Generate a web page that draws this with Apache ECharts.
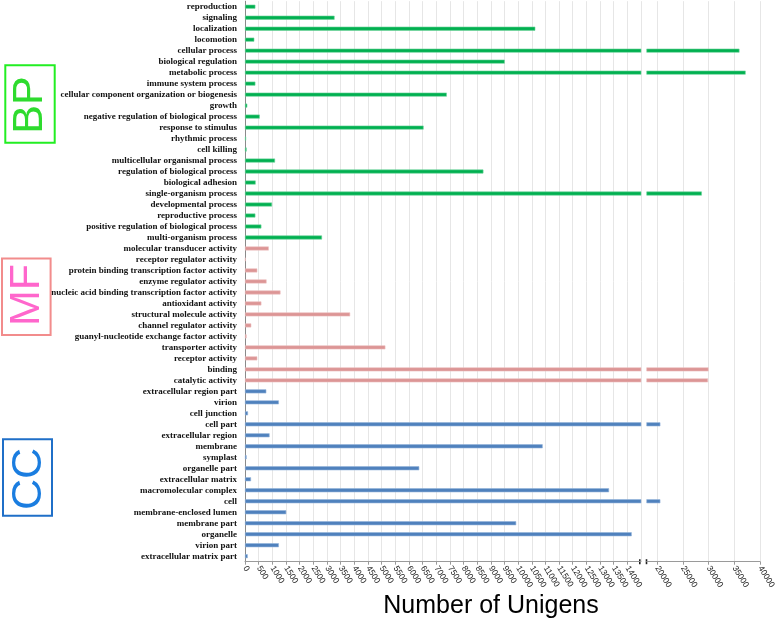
<!DOCTYPE html>
<html><head><meta charset="utf-8">
<script src="https://cdn.jsdelivr.net/npm/echarts@6/dist/echarts.min.js"></script>
<style>html,body{margin:0;padding:0;background:#fff}#c{width:778px;height:625px}</style>
</head><body><div id="c"></div>
<script>
// ---- data (top to bottom) ----
const bpNames = ["reproduction","signaling","localization","locomotion","cellular process","biological regulation","metabolic process","immune system process","cellular component organization or biogenesis","growth","negative regulation of biological process","response to stimulus","rhythmic process","cell killing","multicellular organismal process","regulation of biological process","biological adhesion","single-organism process","developmental process","reproductive process","positive regulation of biological process","multi-organism process"];
const bpValues = [380,3280,10630,340,36000,9510,37200,380,7390,85,540,6540,40,60,1100,8730,390,28700,990,380,600,2820];
const mfNames = ["molecular transducer activity","receptor regulator activity","protein binding transcription factor activity","enzyme regulator activity","nucleic acid binding transcription factor activity","antioxidant activity","structural molecule activity","channel regulator activity","guanyl-nucleotide exchange factor activity","transporter activity","receptor activity","binding","catalytic activity"];
const mfValues = [870,25,450,790,1300,600,3850,230,60,5140,450,30000,29900];
const ccNames = ["extracellular region part","virion","cell junction","cell part","extracellular region","membrane","symplast","organelle part","extracellular matrix","macromolecular complex","cell","membrane-enclosed lumen","membrane part","organelle","virion part","extracellular matrix part"];
const ccValues = [780,1240,110,20650,900,10900,60,6380,220,13330,20650,1510,9930,14160,1240,100];
const leftMax = 14500;
const rightMin = 18000;
const rightMax = 40000;
const rightTicks = [20000,25000,30000,35000,40000];
const axisTitle = "Number of Unigens";
const groupLabels = ["BP","MF","CC"];

const groupColors = ["#00b050","#dc9595","#4f81bd"];
const groupEdges = ["#6fd39c","#ecc0c0","#93b3da"];

const categories = bpNames.concat(mfNames, ccNames);
const values = bpValues.concat(mfValues, ccValues);
const groups = bpNames.map(()=>0).concat(mfNames.map(()=>1), ccNames.map(()=>2));

function item(v, i){
  const g = groups[i];
  return {value:v, itemStyle:{color:groupColors[g], borderColor:groupEdges[g], borderWidth:0.6}};
}

const chart = echarts.init(document.getElementById('c'), null, {renderer:'canvas'});

const catLabel = {interval:0, fontFamily:'Liberation Serif', fontWeight:'bold', fontSize:9, color:'#111', margin:8};
const numLabel = {fontFamily:'Liberation Sans', fontSize:8.5, color:'#222', rotate:-58, margin:5};

chart.setOption({
  animation:false,
  backgroundColor:'#fff',
  grid:[
    {left:245, top:1.2, width:396, height:560.5},
    {left:646.7, top:1.2, width:116.6, height:560.5}
  ],
  xAxis:[
    {type:'value', gridIndex:0, min:0, max:leftMax, interval:500,
     axisLine:{show:true, lineStyle:{color:'#9a9a9a'}},
     axisTick:{show:true, length:3, lineStyle:{color:'#9a9a9a'}},
     splitLine:{show:true, lineStyle:{color:'#e6e6e6', width:1}},
     axisLabel:Object.assign({showMaxLabel:false, formatter:v=>String(v)}, numLabel)},
    {type:'value', gridIndex:1, min:rightMin, max:rightMax,
     axisLine:{show:true, lineStyle:{color:'#9a9a9a'}},
     axisTick:{show:true, length:3, customValues:rightTicks, lineStyle:{color:'#9a9a9a'}},
     splitLine:{show:true, lineStyle:{color:'#e6e6e6', width:1}},
     axisLabel:Object.assign({customValues:rightTicks, formatter:v=>String(v)}, numLabel)}
  ],
  yAxis:[
    {type:'category', gridIndex:0, data:categories, inverse:true,
     axisLine:{show:true, lineStyle:{color:'#8a8a8a'}},
     axisTick:{show:false}, axisLabel:catLabel},
    {type:'category', gridIndex:1, data:categories, inverse:true,
     axisLine:{show:false}, axisTick:{show:false}, axisLabel:{show:false}}
  ],
  series:[
    {type:'bar', xAxisIndex:0, yAxisIndex:0, data:values.map(item), barWidth:4, clip:true, silent:true},
    {type:'bar', xAxisIndex:1, yAxisIndex:1, data:values.map((v,i)=>v>leftMax?item(v,i):'-'), barWidth:4, clip:true, silent:true}
  ]
});

// decorations: break marks, axis title, group boxes
const y0 = chart.convertToPixel({yAxisIndex:0}, categories[categories.length-1]) + 5.5;
const xb1 = chart.convertToPixel({xAxisIndex:0}, leftMax);
const xb2 = chart.convertToPixel({xAxisIndex:1}, rightMin);
chart.setOption({
  graphic:[
    {type:'rect', shape:{x:xb1-2, y:y0-2.5, width:1.6, height:5}, style:{fill:'#222'}},
    {type:'rect', shape:{x:xb2-1, y:y0-2.5, width:1.6, height:5}, style:{fill:'#222'}},
    {type:'text', x:491, y:606, style:{text:axisTitle, fontFamily:'Liberation Sans', fontSize:25, fill:'#000', align:'center', verticalAlign:'middle'}},
    {type:'rect', shape:{x:5.3, y:65.3, width:49.4, height:77.4}, style:{fill:null, stroke:'#22ee22', lineWidth:2}},
    {type:'text', x:30, y:105, rotation:Math.PI/2, style:{text:groupLabels[0], fontFamily:'Liberation Sans', fontSize:43, fill:'#2edb2e', align:'center', verticalAlign:'middle'}},
    {type:'rect', shape:{x:2, y:258.5, width:48.6, height:76.5}, style:{fill:null, stroke:'#f28c8c', lineWidth:2}},
    {type:'text', x:27, y:295, rotation:Math.PI/2, style:{text:groupLabels[1], fontFamily:'Liberation Sans', fontSize:43, fill:'#ff66cc', align:'center', verticalAlign:'middle'}},
    {type:'rect', shape:{x:3, y:439.3, width:49, height:76.5}, style:{fill:null, stroke:'#1f6fc8', lineWidth:2}},
    {type:'text', x:29, y:479, rotation:Math.PI/2, style:{text:groupLabels[2], fontFamily:'Liberation Sans', fontSize:43, fill:'#1a7de0', align:'center', verticalAlign:'middle'}}
  ]
});
</script></body></html>
